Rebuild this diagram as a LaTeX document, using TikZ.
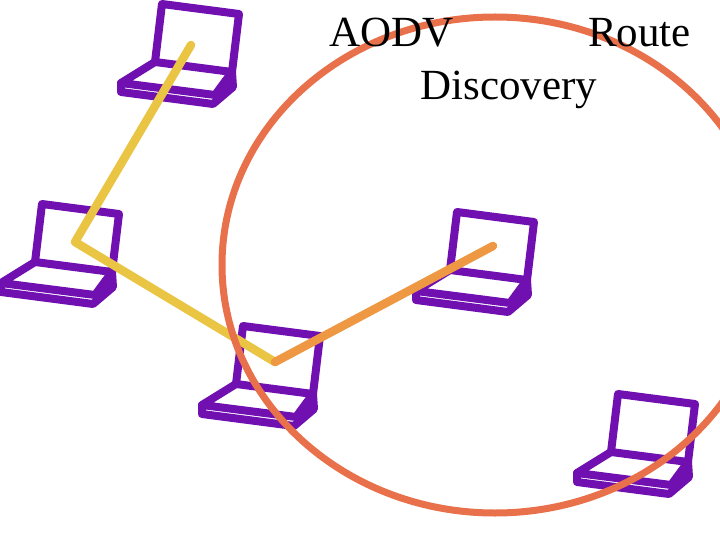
\documentclass[tikz,border=0pt]{standalone}
\usepackage{fontspec}
\setmainfont{Liberation Serif}
\usetikzlibrary{calc}
\definecolor{lap}{HTML}{7010B0}
\definecolor{ring}{HTML}{E8704A}
\definecolor{hop}{HTML}{EAC543}
\definecolor{rep}{HTML}{EE9844}
\tikzset{
  lapline/.style={lap,line width=8pt,line join=round,line cap=round},
  linkline/.style={line width=8.5pt,line join=round,line cap=round},
  title/.style={inner sep=0pt,font=\fontsize{43}{43}\selectfont}
}
\newcommand{\laptop}[1]{
  \begin{scope}[shift={#1}]
    \draw[lapline] (0,0) -- (-7,58) -- (70,68) -- (77,10) -- cycle;
    \draw[lapline] (-7,58) -- (-41,79) -- (53,91) -- (70,68);
    \draw[lapline] (-41,79) -- (-41,88) -- (51,100) -- (71,83) -- (70,68);
    \fill[lap] (53,91) -- (51,100) -- (71,83) -- (70,68) -- cycle;
  \end{scope}
}
\begin{document}
\begin{tikzpicture}[x=1pt,y=-1pt]
  \useasboundingbox (0,0) rectangle (720,540);
  \laptop{(162,4)}
  \laptop{(42,204)}
  \laptop{(243,326)}
  \laptop{(457,212)}
  \laptop{(618,394)}
  \coordinate (n1) at (191,45);
  \coordinate (n2) at (75,242);
  \coordinate (n3) at (275,362);
  \coordinate (n4) at (493,246);
  \draw[hop,linkline] (n1) -- (n2) -- (n3);
  \draw[rep,linkline] (n3) -- (n4);
  \begin{scope}
    \clip (0,0) rectangle (720,540);
    \draw[ring,line width=7pt] (495,265) ellipse (273 and 248);
  \end{scope}
  \node[title,anchor=base west] (t1) at (329,47) {AODV};
  \node[title,anchor=base east] (t2) at (691,47) {Route};
  \node[title,anchor=base] (t3) at (509,100) {Discovery};
\end{tikzpicture}
\end{document}
